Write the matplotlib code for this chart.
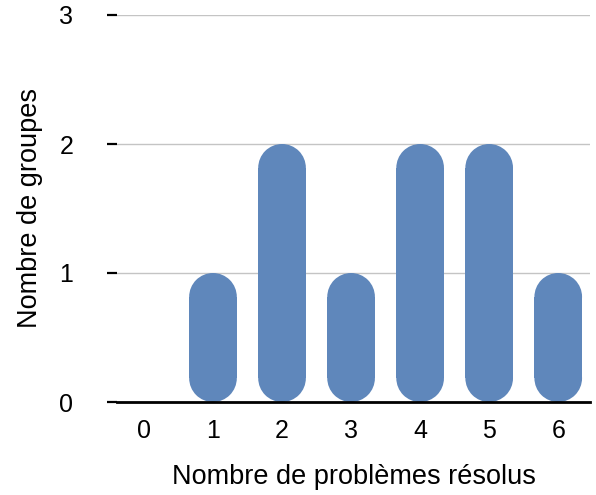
import numpy as np
import matplotlib.pyplot as plt
from matplotlib.patches import Ellipse, Rectangle

plt.rcParams['font.family'] = ['Liberation Sans', 'DejaVu Sans']

problemes = [0, 1, 2, 3, 4, 5, 6]
groupes = [0, 1, 2, 1, 2, 2, 1]
yticks = [0, 1, 2, 3]

fig = plt.figure(figsize=(5.96, 4.95), dpi=100)
ax = fig.add_axes([117/596, 93/495, 473/596, 387/495])

xmin, xmax = -0.39, 6.46
ax.set_xlim(xmin, xmax)
ax.set_ylim(0, 3)

# pill-shaped bars: semicircle ends, so scale the y radius by pixel aspect
px_x = 473 / (xmax - xmin)
px_y = 387 / 3
w = 0.69
ry = w / 2 * px_x / px_y
col = '#5f87bb'
for x, h in zip(problemes, groupes):
    if h == 0:
        continue
    ax.add_patch(Rectangle((x - w/2, ry), w, h - 2*ry, fc=col, ec='none', zorder=3))
    ax.add_patch(Ellipse((x, ry), w, 2*ry, fc=col, ec='none', zorder=3))
    ax.add_patch(Ellipse((x, h - ry), w, 2*ry, fc=col, ec='none', zorder=3))

ax.set_yticks(yticks)
ax.set_xticks(problemes)
ax.grid(axis='y', color='#c4c4c4', lw=1, zorder=0)
ax.grid(axis='x', visible=False)
for s in ['top', 'right', 'left']:
    ax.spines[s].set_visible(False)
ax.spines['bottom'].set_linewidth(2)
ax.spines['bottom'].set_zorder(4)
ax.tick_params(axis='y', length=7.5, width=1.6, pad=24, labelsize=18)
ax.tick_params(axis='x', length=0, pad=12, labelsize=18)

ax.set_xlabel('Nombre de problèmes résolus', fontsize=19.5, labelpad=15)
ax.set_ylabel('Nombre de groupes', fontsize=19.5, labelpad=12)

fig.savefig('out.png', dpi=100)
